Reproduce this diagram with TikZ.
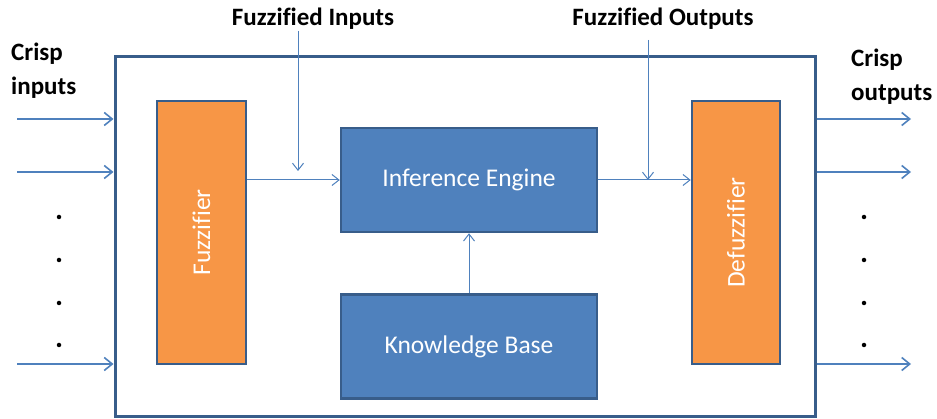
\documentclass[tikz,border=0pt]{standalone}
\usepackage{fontspec}
\setmainfont{Carlito}[Ligatures=NoCommon]
\usetikzlibrary{arrows.meta}
\definecolor{accent}{HTML}{4F81BD}
\definecolor{edgeblue}{HTML}{385D8A}
\definecolor{orangefill}{HTML}{F79646}
\begin{document}
\begin{tikzpicture}[x=1pt,y=-1pt,
  outerbox/.style={draw=edgeblue, line width=3pt, rectangle, inner sep=0pt},
  fuzzbox/.style={draw=edgeblue, fill=orangefill, line width=2.5pt, rectangle, inner sep=0pt, text=white, font=\fontsize{25.5}{28}\selectfont},
  bluebox/.style={draw=edgeblue, fill=accent, line width=2.5pt, rectangle, inner sep=0pt, text=white, font=\fontsize{25.5}{28}\selectfont},
  lbl/.style={font=\bfseries\fontsize{25}{34}\selectfont, inner sep=0pt, align=left},
  iarrow/.style={draw=accent, line width=1.8pt, -{Straight Barb[length=8pt,width=13pt,line width=1.6pt]}},
  tarrow/.style={draw=accent, line width=1pt, -{Straight Barb[length=7pt,width=11pt,line width=1pt]}},
  dotmark/.style={fill=black, circle, inner sep=0pt, minimum size=4.5pt}
]
\useasboundingbox (0,0) rectangle (937,419);

% main boxes
\node[outerbox, minimum width=700, minimum height=359] (sys) at (465,236.5) {};
\node[fuzzbox, minimum width=89, minimum height=263] (fuz) at (201.5,232.5) {\rotatebox{90}{Fuzzifier}};
\node[fuzzbox, minimum width=88, minimum height=263] (defuz) at (736,232.5) {\rotatebox{90}{Defuzzifier}};
\node[bluebox, minimum width=256, minimum height=104] (ie) at (469,180) {Inference Engine};
\node[bluebox, minimum width=256, minimum height=104] (kb) at (469,346.5) {\raisebox{-3pt}{Knowledge Base}};

% labels
\node[lbl] (fin) at (313,19) {Fuzzified Inputs};
\node[lbl] (fout) at (663,19) {Fuzzified Outputs};
\node[lbl, anchor=west] (cin) at (11,71) {Crisp\\inputs};
\node[lbl, anchor=west] (cout) at (851,77) {Crisp\\outputs};

% input arrows
\coordinate (i1) at (17,119);
\coordinate (i2) at (17,172);
\coordinate (i3) at (17,364);
\draw[iarrow] (i1) -- (i1 -| sys.west);
\draw[iarrow] (i2) -- (i2 -| sys.west);
\draw[iarrow] (i3) -- (i3 -| sys.west);

% output arrows
\coordinate (o1) at (911,119);
\coordinate (o2) at (911,172);
\coordinate (o3) at (911,364);
\draw[iarrow] (o1 -| sys.east) -- (o1);
\draw[iarrow] (o2 -| sys.east) -- (o2);
\draw[iarrow] (o3 -| sys.east) -- (o3);

% internal arrows
\draw[tarrow] (fuz.east |- ie.west) -- (ie.west);
\draw[tarrow] (ie.east) -- (ie.east -| defuz.west);
\draw[tarrow] (kb.north) -- (ie.south);

\coordinate (finS) at (298,31);
\coordinate (finE) at (298,171);
\draw[tarrow] (finS) -- (finE);
\coordinate (foutS) at (648,40);
\coordinate (foutE) at (648,180);
\draw[tarrow] (foutS) -- (foutE);

% dots
\foreach \yy/\k in {217/1,260/2,303/3,345/4}{
  \node[dotmark] (dl\k) at (59,\yy) {};
  \node[dotmark] (dr\k) at (864,\yy) {};
}
\end{tikzpicture}
\end{document}
